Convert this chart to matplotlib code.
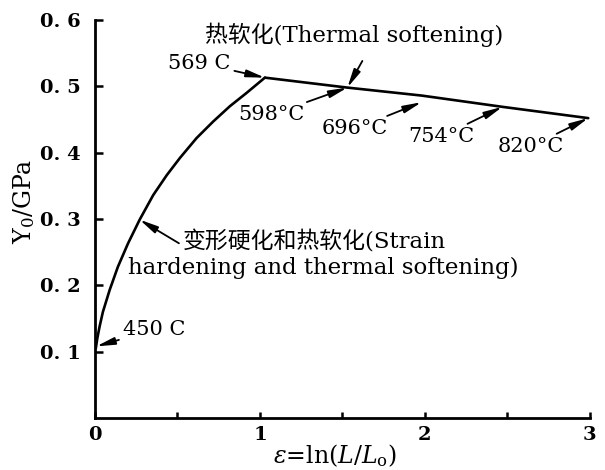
import matplotlib
matplotlib.use("Agg")
import matplotlib.pyplot as plt

# ---- data ----
eps_hard = [0.005, 0.014, 0.028, 0.048, 0.089, 0.139, 0.200, 0.271, 0.353, 0.435,
            0.515, 0.616, 0.717, 0.818, 0.919, 1.03]
Y_hard = [0.105, 0.120, 0.138, 0.160, 0.193, 0.228, 0.263, 0.299, 0.336, 0.366,
          0.392, 0.422, 0.447, 0.470, 0.490, 0.513]

eps_soft = [1.03, 1.53, 1.98, 2.47, 2.99]
Y_soft = [0.513, 0.498, 0.486, 0.469, 0.452]

x_ticks = [0, 1, 2, 3]
x_ticklabels = ["0", "1", "2", "3"]
x_minor = [0.5, 1.5, 2.5]
y_ticks = [0.1, 0.2, 0.3, 0.4, 0.5, 0.6]
y_ticklabels = ["0. 1", "0. 2", "0. 3", "0. 4", "0. 5", "0. 6"]

# temperature labels: (label, arrow target, text position, alignment)
temp_labels = ["450 C", "569 C", "598°C", "696°C", "754°C", "820°C"]
temp_targets = [(0.008, 0.108), (1.03, 0.513), (1.53, 0.498), (1.98, 0.476), (2.47, 0.469), (2.99, 0.452)]
temp_textpos = [(0.17, 0.133), (0.82, 0.535), (0.867, 0.457), (1.376, 0.436), (1.897, 0.424), (2.44, 0.409)]
temp_ha = ["left", "right", "left", "left", "left", "left"]

title_soft = "热软化(Thermal softening)"
hard_line1 = "变形硬化和热软化(Strain"
hard_line2 = "hardening and thermal softening)"

fams = ["DejaVu Serif", "Noto Sans CJK SC"]
plt.rcParams["font.family"] = fams
plt.rcParams["mathtext.fontset"] = "dejavuserif"

fig = plt.figure(figsize=(6.05, 4.70), dpi=100)
ax = fig.add_axes([0.157, 0.1106, 0.818, 0.847])

line_kw = dict(color="black", lw=1.9, solid_capstyle="round", solid_joinstyle="round")
ax.plot(eps_hard, Y_hard, **line_kw)
ax.plot(eps_soft, Y_soft, **line_kw)

ax.set_xlim(0, 3)
ax.set_ylim(0, 0.6)
for s in ["top", "right"]:
    ax.spines[s].set_visible(False)
for s in ["left", "bottom"]:
    ax.spines[s].set_linewidth(2.0)

ax.set_xticks(x_ticks)
ax.set_xticklabels(x_ticklabels, fontsize=14, fontweight="bold")
ax.set_xticks(x_minor, minor=True)
ax.set_yticks(y_ticks)
ax.set_yticklabels(y_ticklabels, fontsize=14, fontweight="bold")
ax.tick_params(axis="x", which="both", direction="in", length=4, width=1.8, pad=6)
ax.tick_params(axis="y", direction="in", length=6, width=1.8, pad=10)

ax.set_xlabel(r"$\varepsilon$=ln($L$/$L_{\rm o}$)", fontsize=17)
ax.xaxis.set_label_coords(0.485, -0.062)
ax.set_ylabel(r"Y$_0$/GPa", fontsize=17)
ax.yaxis.set_label_coords(-0.118, 0.545)

arrow_kw = dict(arrowstyle="-|>,head_length=1.1,head_width=0.22", color="black",
                lw=1.3, mutation_scale=10, shrinkA=1, shrinkB=0)

for lab, tgt, pos, ha in zip(temp_labels, temp_targets, temp_textpos, temp_ha):
    ax.annotate(lab, xy=tgt, xytext=pos, ha=ha, va="center", fontsize=15,
                arrowprops=arrow_kw, annotation_clip=False)

# thermal softening title and its arrow
ax.text(0.667, 0.578, title_soft, ha="left", va="center", fontsize=16.5, clip_on=False)
ax.annotate("", xy=(1.53, 0.498), xytext=(1.625, 0.54), arrowprops=arrow_kw,
            annotation_clip=False)

# strain hardening label
ax.annotate(hard_line1, xy=(0.27, 0.299), xytext=(0.533, 0.265), ha="left", va="center",
            fontsize=16.5, arrowprops=dict(arrow_kw, relpos=(0, 0.35)), annotation_clip=False)
ax.text(0.2, 0.226, hard_line2, ha="left", va="center", fontsize=16.5, clip_on=False)

fig.savefig("out.png", dpi=100)
